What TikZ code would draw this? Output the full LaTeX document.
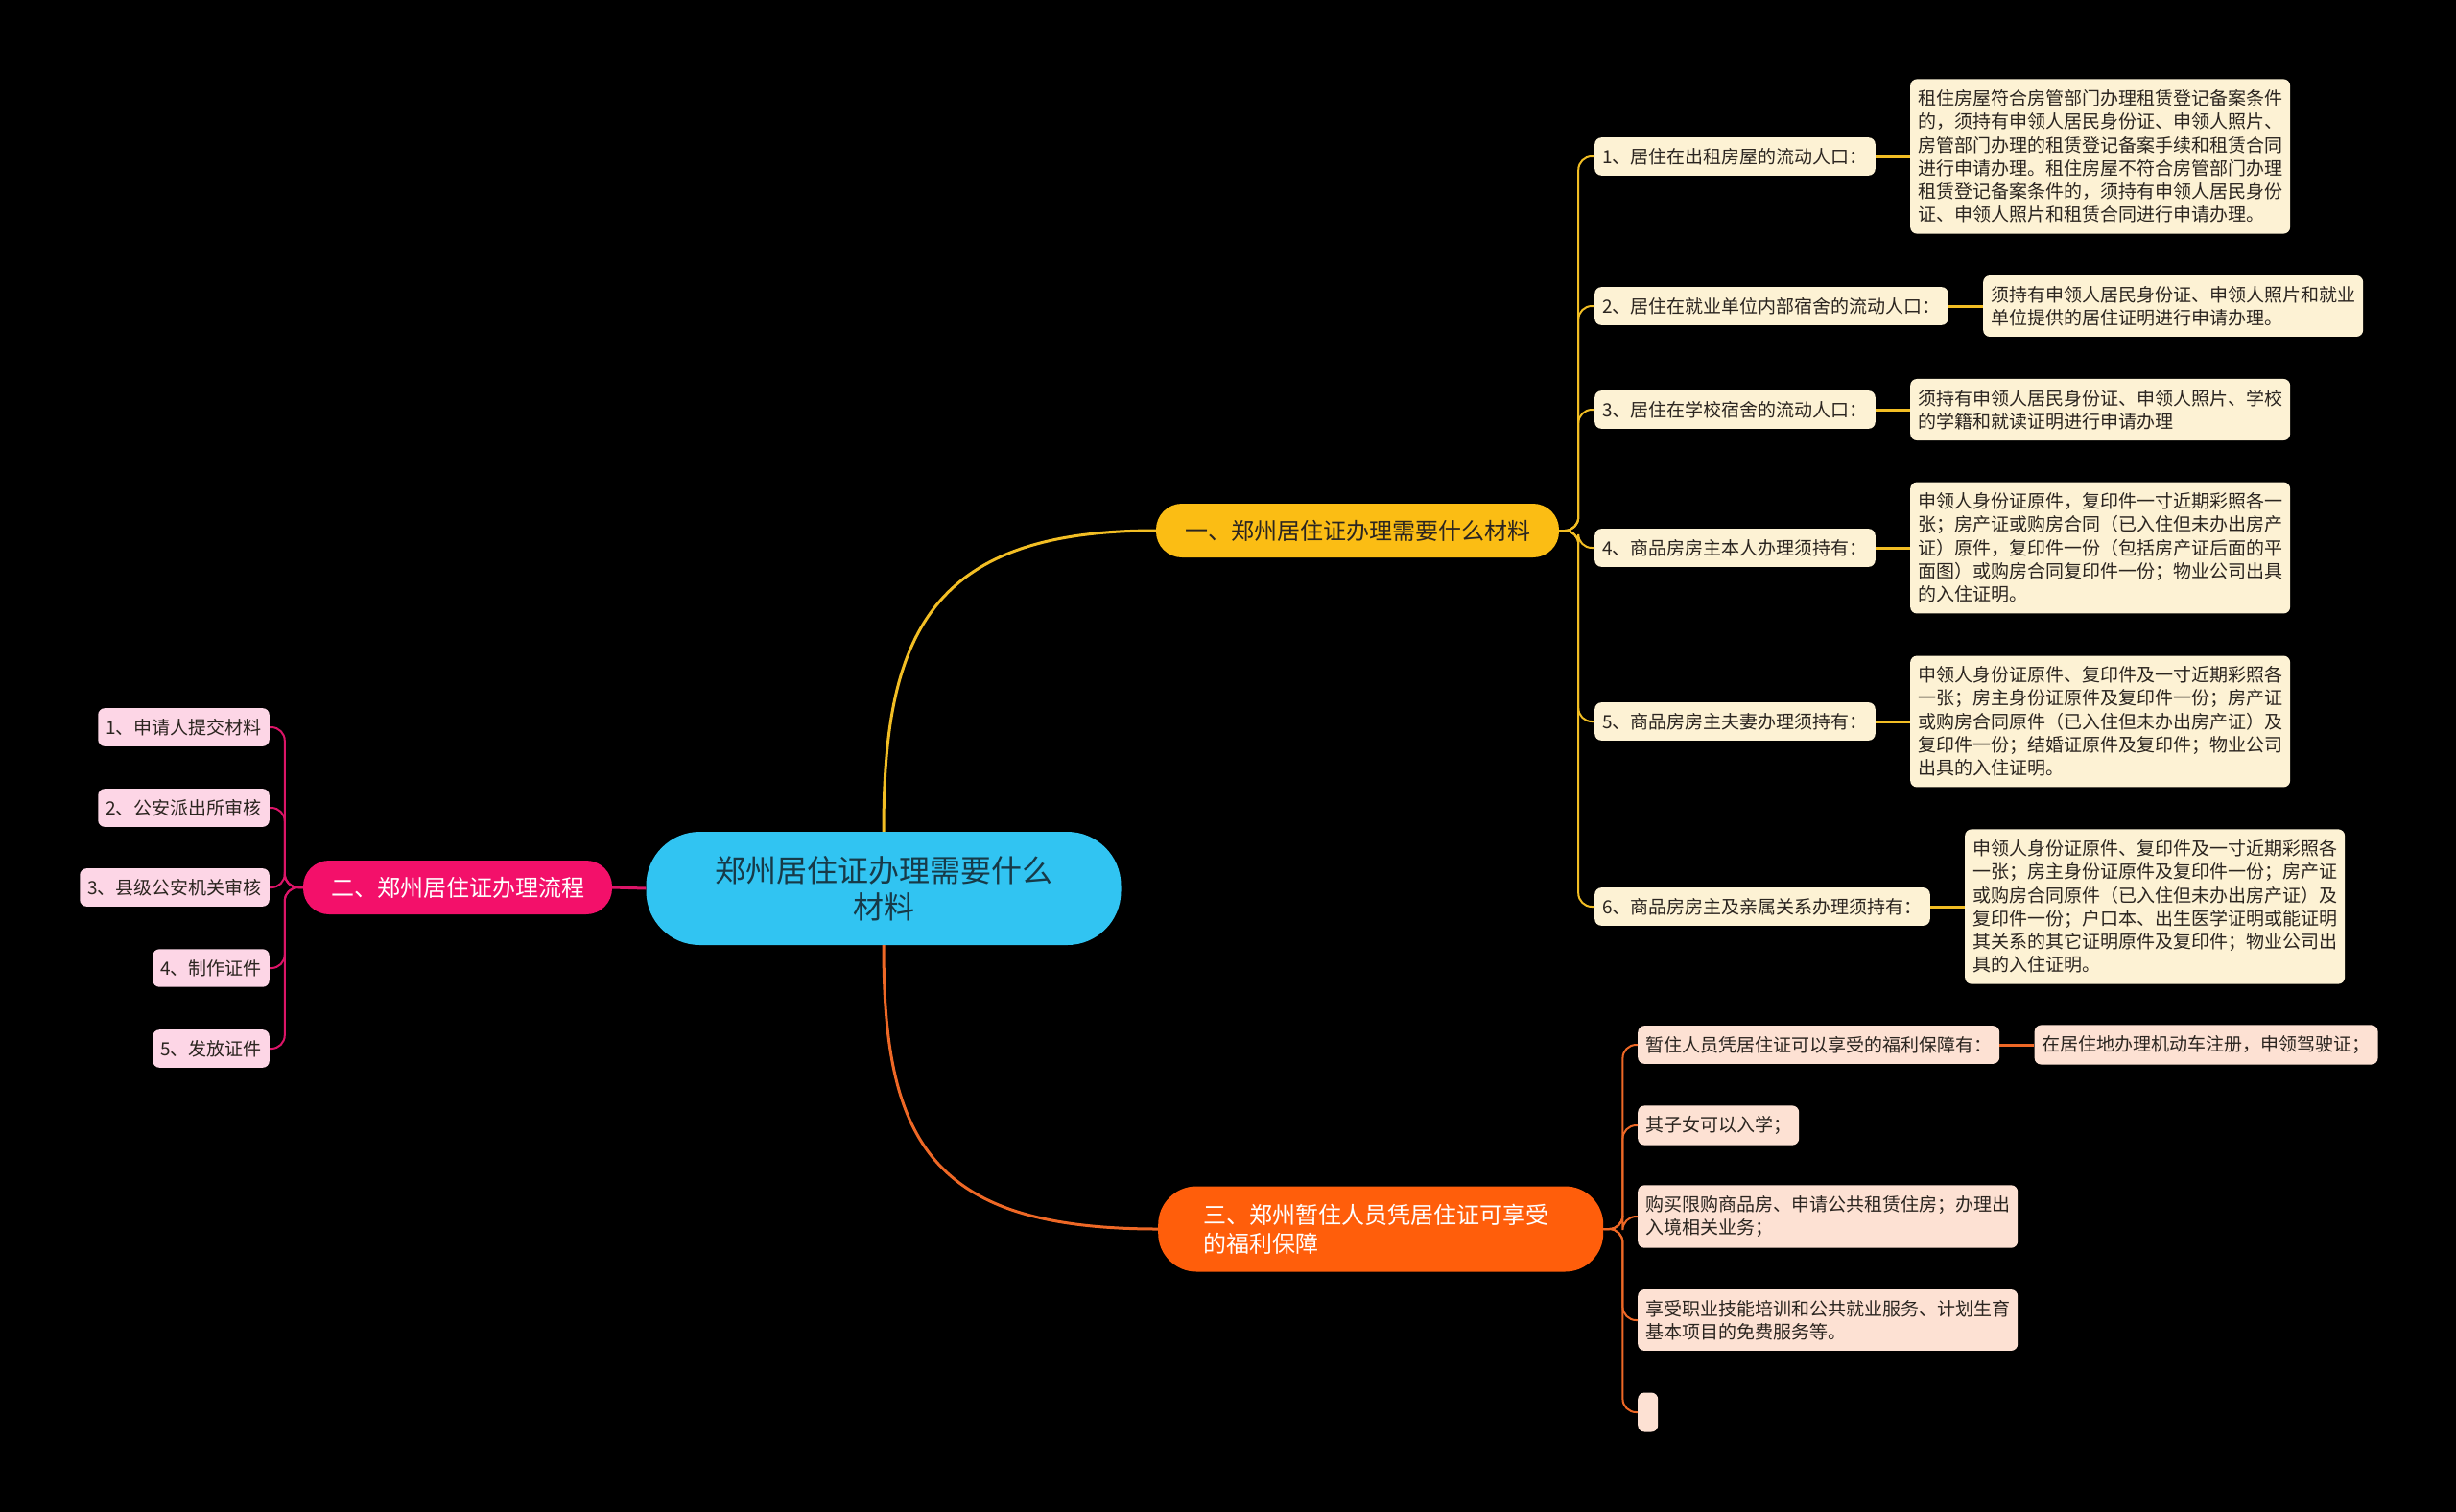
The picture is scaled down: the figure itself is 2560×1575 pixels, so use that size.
\documentclass[tikz,border=0pt]{standalone}
\usepackage{fontspec}
\setmainfont{Noto Sans CJK SC}
\usetikzlibrary{positioning}
\definecolor{sky}{HTML}{31C4F2}
\definecolor{skyink}{HTML}{173A48}
\definecolor{gold}{HTML}{FBBD14}
\definecolor{goldline}{HTML}{F2BE24}
\definecolor{cream}{HTML}{FDF2D4}
\definecolor{rose}{HTML}{F3106A}
\definecolor{roseline}{HTML}{DC1568}
\definecolor{blush}{HTML}{FDD6E6}
\definecolor{flame}{HTML}{FF5E0B}
\definecolor{flameline}{HTML}{EE6826}
\definecolor{peach}{HTML}{FDE1D3}
\definecolor{ink}{HTML}{2B2520}
\newcommand{\px}[2]{\fontsize{#1}{#2}\selectfont}

\begin{document}
\begin{tikzpicture}[x=1pt,y=-1pt,
  root/.style={fill=sky,text=skyink,rounded corners=56pt,minimum width=495pt,minimum height=118pt,align=center,font=\px{32}{38}},
  topic/.style={rounded corners=27pt,minimum height=56pt,align=center,font=\px{24}{30}},
  box/.style={rounded corners=7pt,inner xsep=8pt,inner ysep=11pt,align=left,text=ink,font=\px{19}{24.3}},
  ybox/.style={box,fill=cream},
  pbox/.style={box,fill=blush},
  obox/.style={box,fill=peach},
  ylink/.style={draw=goldline,line width=2pt,rounded corners=14pt},
  plink/.style={draw=roseline,line width=2pt,rounded corners=14pt},
  olink/.style={draw=flameline,line width=2pt,rounded corners=14pt}]
\useasboundingbox (0,0) rectangle (2560,1575);
\fill[black] (-10,-10) rectangle (2570,1585);

% centre and the three topics
\node[root] (C) at (921,926) {郑州居住证办理需要什么\\材料};
\node[topic,fill=gold,text=ink,minimum width=420pt] (Y) at (1415,553) {一、郑州居住证办理需要什么材料};
\node[topic,fill=rose,text=white,minimum width=322pt] (P) at (477,925) {二、郑州居住证办理流程};
\node[fill=flame,text=white,rounded corners=40pt,minimum height=89pt,text width=370pt,inner xsep=47pt,align=left,font=\px{24}{30},anchor=west] (O) at (1207,1281) {三、郑州暂住人员凭居住证可享受\\的福利保障};

\draw[goldline,line width=3pt] (C.north) .. controls (921,660) and (970,553) .. (Y.west);
\draw[roseline,line width=3pt] (C.west) -- (P.east);
\draw[flameline,line width=3pt] (C.south) .. controls (921,1190) and (970,1281) .. (O.west);

% materials
\node[ybox,anchor=west] (Y1) at (1662,163) {1、居住在出租房屋的流动人口：};
\node[ybox,anchor=west] (Y2) at (1662,319) {2、居住在就业单位内部宿舍的流动人口：};
\node[ybox,anchor=west] (Y3) at (1662,427) {3、居住在学校宿舍的流动人口：};
\node[ybox,anchor=west] (Y4) at (1662,571) {4、商品房房主本人办理须持有：};
\node[ybox,anchor=west] (Y5) at (1662,752) {5、商品房房主夫妻办理须持有：};
\node[ybox,anchor=west] (Y6) at (1662,945) {6、商品房房主及亲属关系办理须持有：};

\node[ybox,right=36pt of Y1] (D1) {租住房屋符合房管部门办理租赁登记备案条件\\的，须持有申领人居民身份证、申领人照片、\\房管部门办理的租赁登记备案手续和租赁合同\\进行申请办理。租住房屋不符合房管部门办理\\租赁登记备案条件的，须持有申领人居民身份\\证、申领人照片和租赁合同进行申请办理。};
\node[ybox,right=36pt of Y2] (D2) {须持有申领人居民身份证、申领人照片和就业\\单位提供的居住证明进行申请办理。};
\node[ybox,right=36pt of Y3] (D3) {须持有申领人居民身份证、申领人照片、学校\\的学籍和就读证明进行申请办理};
\node[ybox,right=36pt of Y4] (D4) {申领人身份证原件，复印件一寸近期彩照各一\\张；房产证或购房合同（已入住但未办出房产\\证）原件，复印件一份（包括房产证后面的平\\面图）或购房合同复印件一份；物业公司出具\\的入住证明。};
\node[ybox,right=36pt of Y5] (D5) {申领人身份证原件、复印件及一寸近期彩照各\\一张；房主身份证原件及复印件一份；房产证\\或购房合同原件（已入住但未办出房产证）及\\复印件一份；结婚证原件及复印件；物业公司\\出具的入住证明。};
\node[ybox,right=36pt of Y6] (D6) {申领人身份证原件、复印件及一寸近期彩照各\\一张；房主身份证原件及复印件一份；房产证\\或购房合同原件（已入住但未办出房产证）及\\复印件一份；户口本、出生医学证明或能证明\\其关系的其它证明原件及复印件；物业公司出\\具的入住证明。};

\foreach \n in {1,...,6} {
  \draw[ylink] (Y.east) -- ++(20,0) |- (Y\n.west);
  \draw[goldline,line width=3pt] (Y\n.east) -- (D\n.west);
}

% process
\node[pbox,anchor=east] (P1) at (281,758) {1、申请人提交材料};
\node[pbox,anchor=east] (P2) at (281,842) {2、公安派出所审核};
\node[pbox,anchor=east] (P3) at (281,925) {3、县级公安机关审核};
\node[pbox,anchor=east] (P4) at (281,1009) {4、制作证件};
\node[pbox,anchor=east] (P5) at (281,1093) {5、发放证件};
\foreach \n in {1,...,5}
  \draw[plink] (P.west) -- ++(-19,0) |- (P\n.east);

% benefits
\node[obox,anchor=west] (O1) at (1707,1089) {暂住人员凭居住证可以享受的福利保障有：};
\node[obox,anchor=west] (O2) at (1707,1173) {其子女可以入学；};
\node[obox,anchor=west] (O3) at (1707,1268) {购买限购商品房、申请公共租赁住房；办理出\\入境相关业务；};
\node[obox,anchor=west] (O4) at (1707,1376) {享受职业技能培训和公共就业服务、计划生育\\基本项目的免费服务等。};
\node[obox,anchor=west,minimum width=21pt,minimum height=41pt] (O5) at (1707,1472) {};
\node[obox,right=36pt of O1] (OD) {在居住地办理机动车注册，申领驾驶证；};

\foreach \n in {1,...,5}
  \draw[olink] (O.east) -- ++(20,0) |- (O\n.west);
\draw[flameline,line width=3pt] (O1.east) -- (OD.west);
\end{tikzpicture}
\end{document}
